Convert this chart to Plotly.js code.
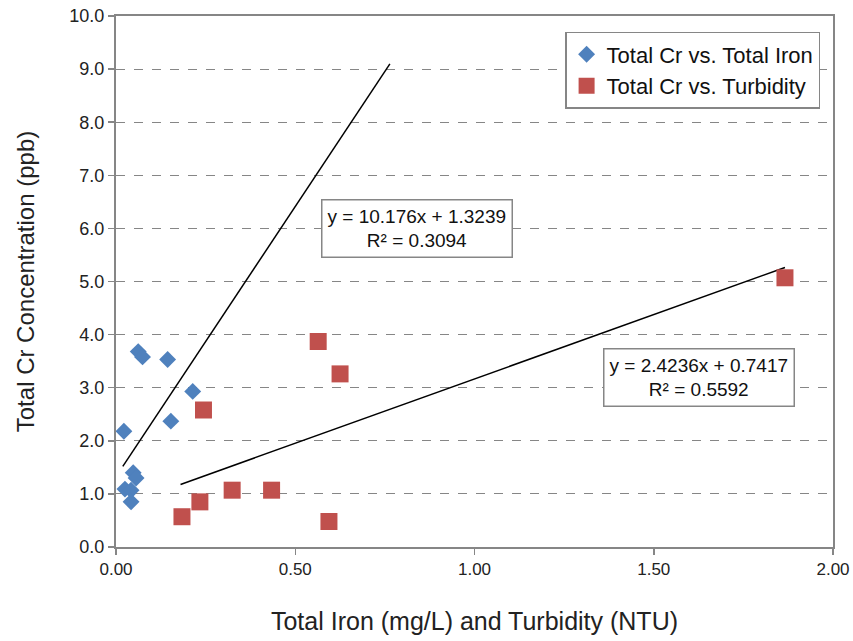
<!DOCTYPE html>
<html>
<head>
<meta charset="utf-8">
<script src="https://cdn.plot.ly/plotly-3.0.1.min.js"></script>
<style>html,body{margin:0;padding:0;background:#fff;}#chart{width:853px;height:641px;}</style>
</head>
<body>
<div id="chart"></div>
<script>
// Total Cr vs. Total Iron (mg/L)
const ironX = [0.022, 0.025, 0.042, 0.042, 0.048, 0.056, 0.062, 0.074, 0.144, 0.153, 0.214];
const ironY = [2.18, 1.09, 1.07, 0.85, 1.40, 1.30, 3.68, 3.58, 3.53, 2.37, 2.93];
// Total Cr vs. Turbidity (NTU)
const turbX = [0.184, 0.234, 0.244, 0.324, 0.434, 0.564, 0.594, 0.625, 1.866];
const turbY = [0.57, 0.85, 2.58, 1.07, 1.07, 3.87, 0.48, 3.26, 5.07];
// Linear trendlines (Excel)
const ironSlope = 10.176, ironIntercept = 1.3239;
const turbSlope = 2.4236, turbIntercept = 0.7417;
const ironTrendX = [0.019, 0.764];
const turbTrendX = [0.180, 1.866];
const ironLabel = "y = 10.176x + 1.3239<br>R² = 0.3094";
const turbLabel = "y = 2.4236x + 0.7417<br>R² = 0.5592";
const xTicks = [0, 0.5, 1.0, 1.5, 2.0];
const xTickText = ["0.00", "0.50", "1.00", "1.50", "2.00"];
const yTicks = [0,1,2,3,4,5,6,7,8,9,10];
const yTickText = ["0.0","1.0","2.0","3.0","4.0","5.0","6.0","7.0","8.0","9.0","10.0"];

const lin = (xs, m, b) => xs.map(x => m * x + b);

const traces = [
  {x: ironTrendX, y: lin(ironTrendX, ironSlope, ironIntercept), mode: 'lines', type: 'scatter',
   line: {color: '#000', width: 1.5}, showlegend: false, hoverinfo: 'skip'},
  {x: turbTrendX, y: lin(turbTrendX, turbSlope, turbIntercept), mode: 'lines', type: 'scatter',
   line: {color: '#000', width: 1.5}, showlegend: false, hoverinfo: 'skip'},
  {x: ironX, y: ironY, mode: 'markers', type: 'scatter', name: 'Total Cr vs. Total Iron',
   marker: {symbol: 'diamond', size: 13, color: '#4F81BD'}},
  {x: turbX, y: turbY, mode: 'markers', type: 'scatter', name: 'Total Cr vs. Turbidity',
   marker: {symbol: 'square', size: 17, color: '#C0504D'}}
];

const fam = 'Liberation Sans, Arial, sans-serif';

const layout = {
  width: 853, height: 641,
  margin: {l: 116, r: 20, t: 16, b: 94},
  paper_bgcolor: '#fff', plot_bgcolor: '#fff',
  font: {family: fam, color: '#111'},
  xaxis: {
    range: [0, 2], tickvals: xTicks, ticktext: xTickText,
    showgrid: false, zeroline: false,
    showline: true, linecolor: '#868686', linewidth: 2, mirror: true,
    ticks: 'outside', ticklen: 6, tickcolor: '#868686', tickwidth: 1.5,
    tickfont: {family: fam, size: 17, color: '#222'},
    title: {text: 'Total Iron (mg/L) and Turbidity (NTU)', standoff: 34,
            font: {family: fam, size: 25, color: '#222'}}
  },
  yaxis: {
    range: [0, 10], tickvals: yTicks, ticktext: yTickText,
    showgrid: true, gridcolor: '#868686', griddash: 'dash', gridwidth: 1,
    zeroline: false,
    showline: true, linecolor: '#868686', linewidth: 2, mirror: true,
    ticks: 'outside', ticklen: 6, tickcolor: '#868686', tickwidth: 1.5,
    tickfont: {family: fam, size: 18, color: '#222'},
    title: {text: 'Total Cr Concentration (ppb)', standoff: 28,
            font: {family: fam, size: 24, color: '#222'}}
  },
  legend: {
    x: 0.982, xanchor: 'right', y: 0.97, yanchor: 'top',
    bgcolor: '#fff', bordercolor: '#868686', borderwidth: 1.5,
    font: {family: fam, size: 22, color: '#111'},
    itemwidth: 30, tracegroupgap: 4
  },
  annotations: [
    {x: 0.84, y: 5.99, xref: 'x', yref: 'y', text: ironLabel, showarrow: false,
     bgcolor: '#fff', bordercolor: '#868686', borderwidth: 1.5, borderpad: 5,
     font: {family: fam, size: 19, color: '#111'}},
    {x: 1.625, y: 3.19, xref: 'x', yref: 'y', text: turbLabel, showarrow: false,
     bgcolor: '#fff', bordercolor: '#868686', borderwidth: 1.5, borderpad: 5,
     font: {family: fam, size: 19, color: '#111'}}
  ],
  showlegend: true
};

Plotly.newPlot('chart', traces, layout, {displayModeBar: false, staticPlot: true});
</script>
</body>
</html>
